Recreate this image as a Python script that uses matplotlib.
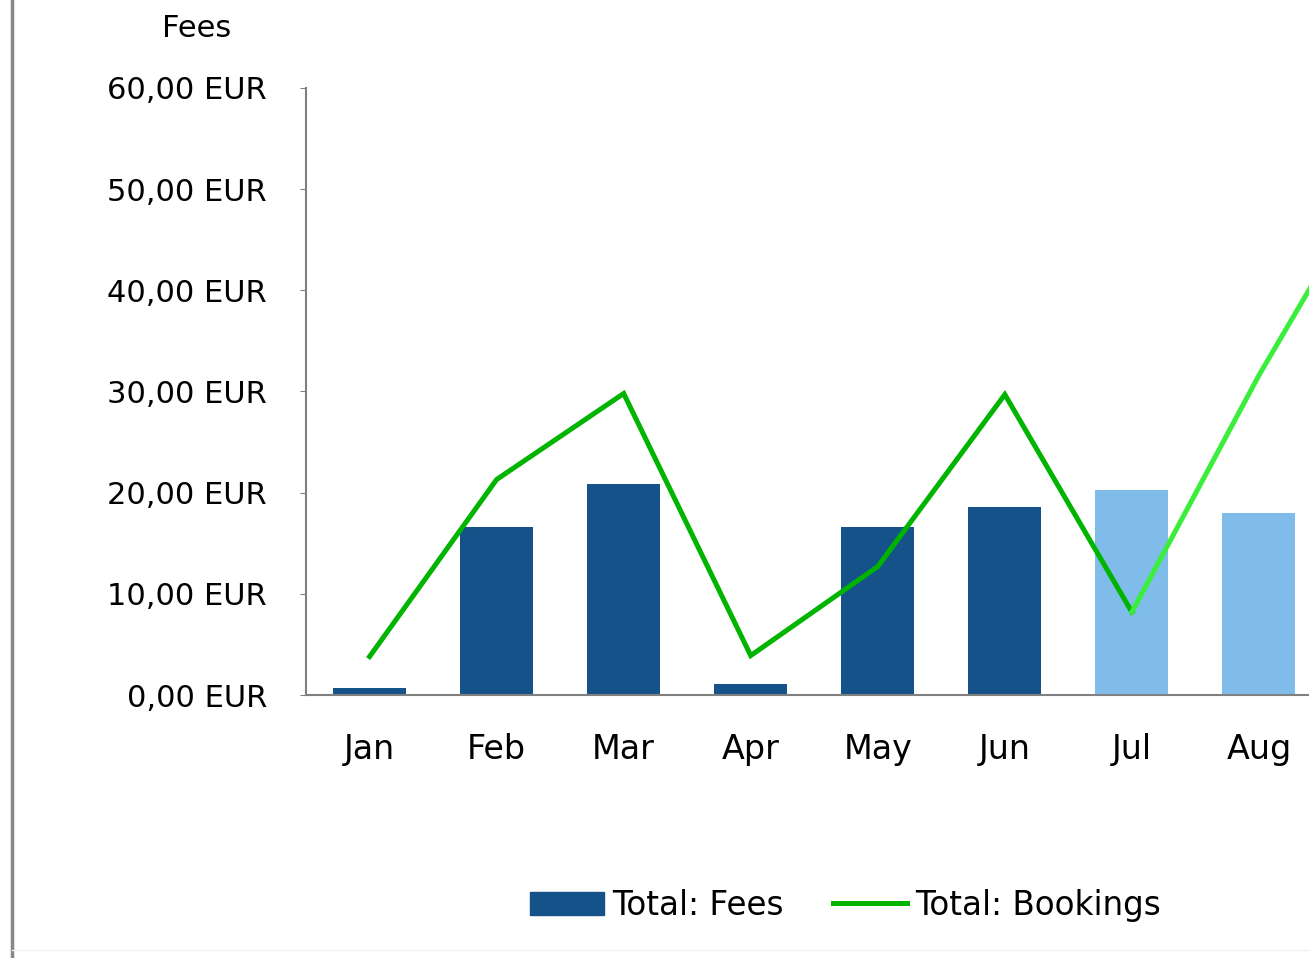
import numpy as np
import matplotlib.pyplot as plt
from matplotlib.lines import Line2D
from matplotlib.patches import Patch

months = ["Jan", "Feb", "Mar", "Apr", "May", "Jun", "Jul", "Aug"]
fees = [0.7, 16.6, 20.9, 1.1, 16.6, 18.6, 20.3, 18.0]
# bookings run one month past the visible edge (Sep), so the line leaves the chart
bookings = [3.8, 21.3, 29.8, 3.9, 12.7, 29.7, 8.2, 31.6, 53.0]
n_actual = 6  # Jan..Jun are actual, the rest forecast
yticks = [0, 10, 20, 30, 40, 50, 60]
ytick_labels = ["0,00 EUR", "10,00 EUR", "20,00 EUR", "30,00 EUR",
                "40,00 EUR", "50,00 EUR", "60,00 EUR"]

dark_blue = "#15528a"
light_blue = "#80bcea"
dark_green = "#00b400"
light_green = "#3cee3c"
fs = 22

fig = plt.figure(figsize=(13.09, 9.58), dpi=100)
ax = fig.add_axes([0.2338, 0.2745, 0.7662, 0.6337])

x = np.arange(len(months))
xb = np.arange(len(bookings))
colors = [dark_blue] * n_actual + [light_blue] * (len(months) - n_actual)
ax.bar(x, fees, width=0.575, color=colors, zorder=2)

ax.plot(xb[:n_actual + 1], bookings[:n_actual + 1], color=dark_green, lw=3.6,
        solid_joinstyle="miter", zorder=3)
ax.plot(xb[n_actual:], bookings[n_actual:], color=light_green, lw=3.6,
        solid_joinstyle="miter", zorder=3)

ax.set_yticks(yticks)
ax.set_yticklabels(ytick_labels, fontsize=fs)
ax.set_xticks(x)
ax.set_xticklabels(months, fontsize=24)
ax.set_xlim(-0.5, 7.394)
ax.set_ylim(0, 60)
ax.tick_params(axis="x", length=0, pad=27)
ax.tick_params(axis="y", length=4, pad=24, color="#808080")

for side in ["top", "right"]:
    ax.spines[side].set_visible(False)
for side in ["left", "bottom"]:
    ax.spines[side].set_color("#808080")
    ax.spines[side].set_linewidth(1.5)

fig.text(0.15, 0.97, "Fees", fontsize=fs, ha="center", va="center")

# left frame line of the chart area
fig.add_artist(Line2D([0.0095, 0.0095], [0.0, 1.0], color="#888888", lw=2.5))
fig.add_artist(Line2D([0.0095, 1.0], [0.008, 0.008], color="#f0f0f0", lw=1))

handles = [Patch(color=dark_blue), Line2D([], [], color=dark_green, lw=3.6)]
fig.legend(handles, ["Total: Fees", "Total: Bookings"], loc="center",
           bbox_to_anchor=(0.6457, 0.055), ncol=2, frameon=False, fontsize=23.5,
           handlelength=2.27, handletextpad=0.25, columnspacing=1.5)

fig.savefig("out.png", dpi=100)
